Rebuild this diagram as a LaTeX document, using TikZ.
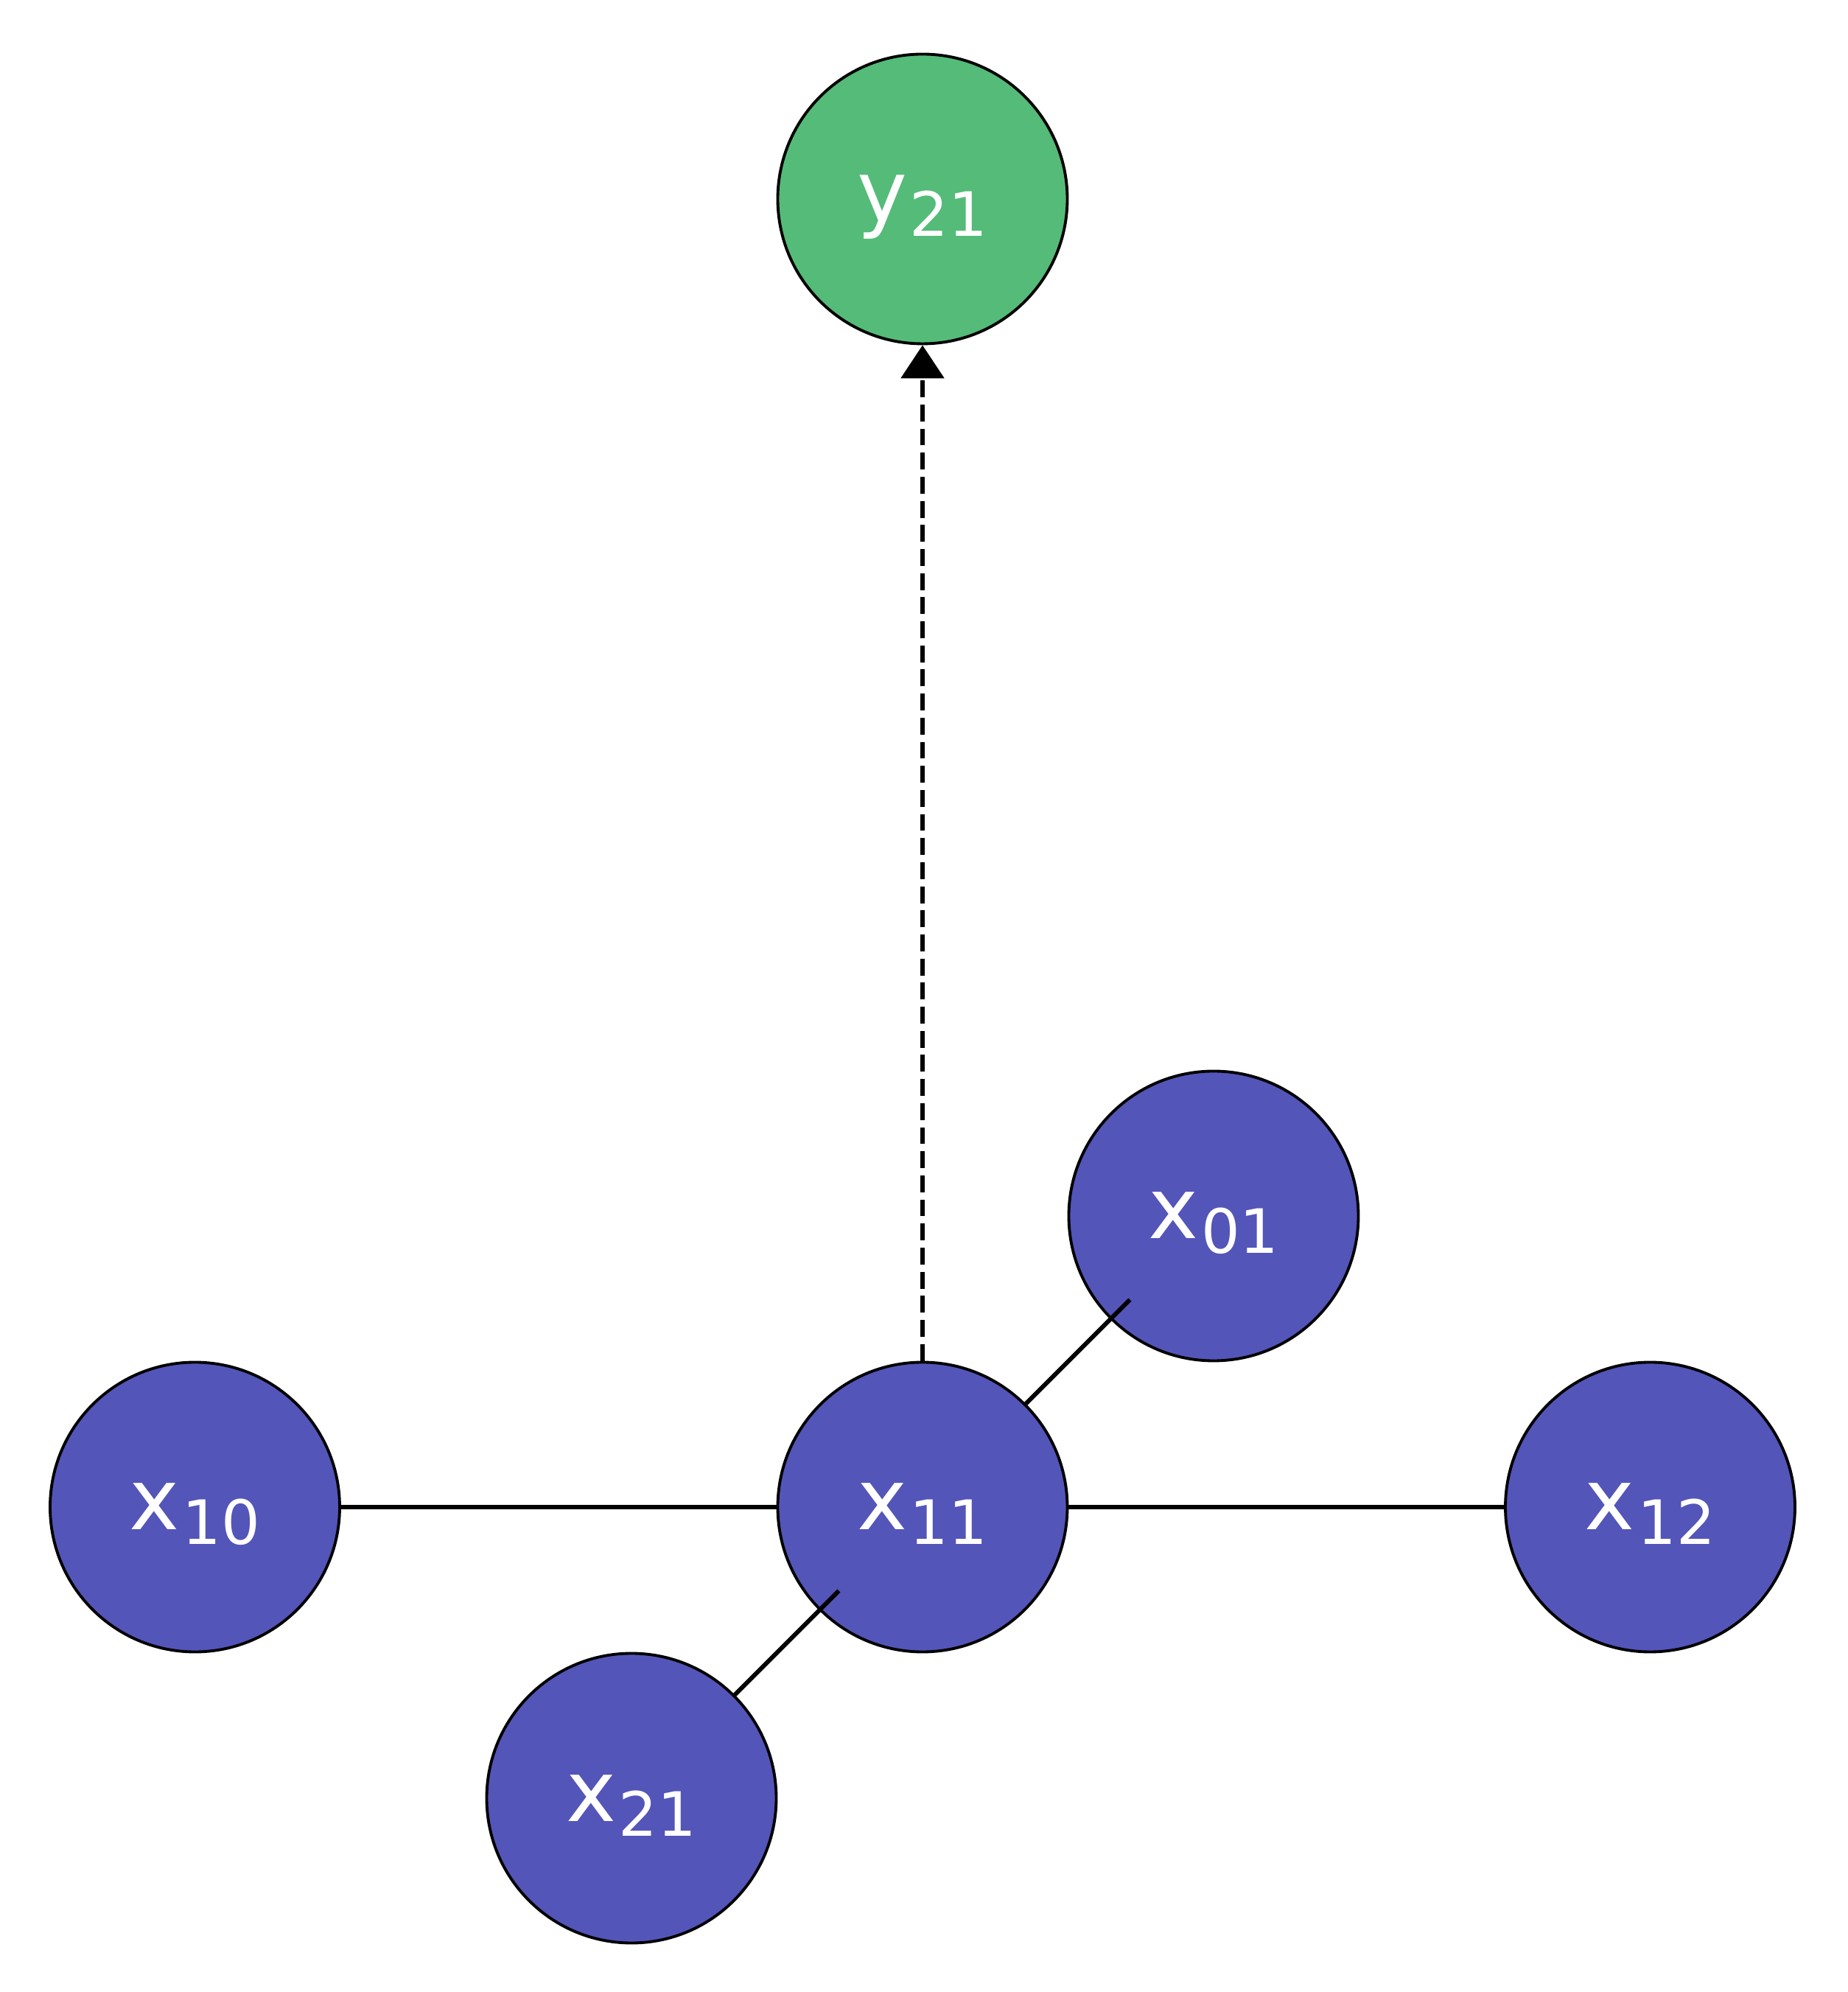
\documentclass[tikz,border=0pt]{standalone}
\usepackage{fontspec}
\setmainfont{DejaVu Sans}
\usetikzlibrary{arrows.meta,calc}
\definecolor{varblue}{RGB}{84,85,185}
\definecolor{vargreen}{RGB}{85,187,120}
\newcommand{\varlbl}[2]{{\fontsize{32.7}{39}\selectfont #1}\kern1pt\raisebox{-0.2cm}{\fontsize{23.6}{28}\selectfont #2}}

\begin{document}
\begin{tikzpicture}[
    xnode/.style={circle, draw, line width=1.1pt, fill=varblue, text=white,
                  inner sep=0pt, minimum size=3.93cm, text height=0.62cm, text depth=0cm},
    ynode/.style={xnode, fill=vargreen},
    edge/.style={line width=1.7pt},
    arr/.style={-{Triangle[length=0.45cm,width=0.58cm]}, line width=1.7pt,
                dash pattern=on 6.5pt off 2.8pt}
  ]
  \useasboundingbox (-12.52,-6.58) rectangle (12.55,20.45);
  \node[xnode] (x11) at (0,0)         {\varlbl{x}{11}};
  \node[xnode] (x10) at (-9.875,0)    {\varlbl{x}{10}};
  \node[xnode] (x12) at (9.875,0)     {\varlbl{x}{12}};
  \node[xnode] (x01) at (3.95,3.95)   {\varlbl{x}{01}};
  \node[xnode] (x21) at (-3.95,-3.95) {\varlbl{x}{21}};
  \node[ynode] (y21) at (0,17.75)     {\varlbl{y}{21}};
  \foreach \a/\b in {x10/x11,x11/x12}
    \draw[edge] (\a) -- (\b);
  \foreach \a/\b in {x21/x11,x11/x01}
    \draw[edge] (\a.45) -- ($(\a)!3.98cm!(\b)$);
  \draw[arr] (x11) -- (y21);
\end{tikzpicture}
\end{document}
